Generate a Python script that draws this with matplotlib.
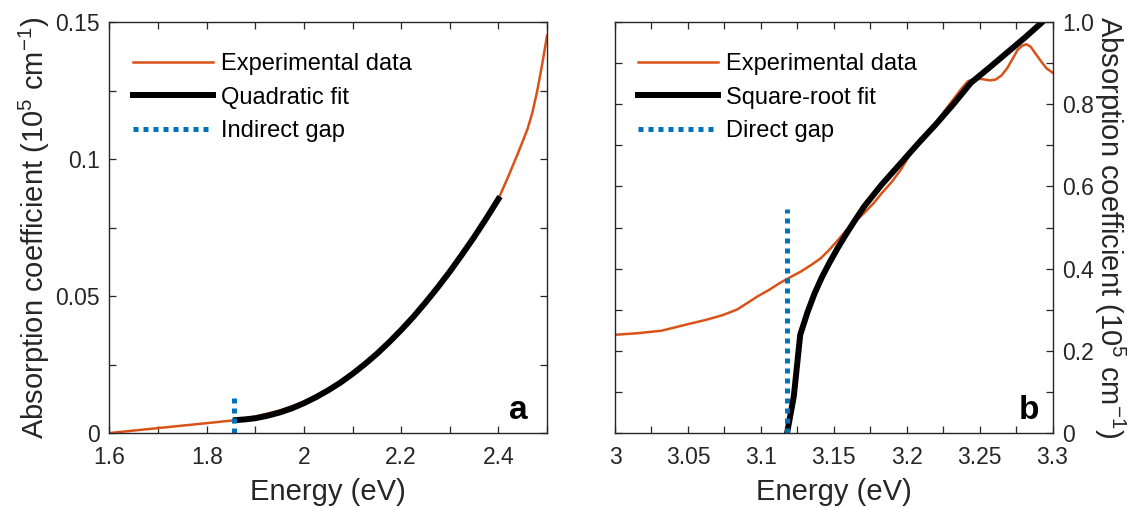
import numpy as np
import matplotlib
matplotlib.use('Agg')
import matplotlib.pyplot as plt
from matplotlib.ticker import MultipleLocator

plt.rcParams['font.family'] = ['Liberation Sans', 'DejaVu Sans']
plt.rcParams['mathtext.fontset'] = 'custom'
plt.rcParams['mathtext.rm'] = 'Liberation Sans'
plt.rcParams['mathtext.default'] = 'regular'

# panel a: indirect gap
exp_a_E = [1.60, 1.65, 1.70, 1.75, 1.80, 1.86, 1.90, 1.95, 2.00, 2.05, 2.10, 2.15,
           2.20, 2.25, 2.30, 2.35, 2.40, 2.42, 2.44, 2.46, 2.47, 2.48, 2.49, 2.50]
exp_a = [0.0000, 0.0009, 0.0018, 0.0027, 0.0036, 0.0047, 0.0060, 0.0082, 0.0113, 0.0158,
         0.0217, 0.0289, 0.0376, 0.0476, 0.0589, 0.0715, 0.0854, 0.0935, 0.1020, 0.1110,
         0.1170, 0.1250, 0.1345, 0.1450]
fit_a_E = [1.86, 1.88, 1.90, 1.925, 1.95, 1.975, 2.00, 2.025, 2.05, 2.075, 2.10, 2.125,
           2.15, 2.175, 2.20, 2.225, 2.25, 2.275, 2.30, 2.325, 2.35, 2.375, 2.40]
fit_a = [0.0047, 0.0050, 0.0054, 0.0063, 0.0075, 0.0090, 0.0109, 0.0131, 0.0156,
         0.0184, 0.0216, 0.0251, 0.0289, 0.0331, 0.0376, 0.0424, 0.0476, 0.0531,
         0.0589, 0.0651, 0.0715, 0.0783, 0.0854]
gap_a_E = [1.856, 1.856]
gap_a = [0.0, 0.0128]

# panel b: direct gap
exp_b_E = [3.000, 3.016, 3.032, 3.049, 3.062, 3.074, 3.084, 3.091, 3.098, 3.106, 3.113,
           3.118, 3.127, 3.135, 3.141, 3.147, 3.153, 3.159, 3.165, 3.171, 3.177, 3.183,
           3.190, 3.196, 3.205, 3.213, 3.220, 3.226, 3.232, 3.238, 3.242, 3.247, 3.252,
           3.257, 3.261, 3.265, 3.269, 3.273, 3.276, 3.279, 3.282, 3.285, 3.288, 3.292,
           3.296, 3.300]
exp_b = [0.239, 0.243, 0.249, 0.264, 0.275, 0.287, 0.301, 0.317, 0.333, 0.349, 0.365,
         0.375, 0.392, 0.410, 0.425, 0.446, 0.470, 0.495, 0.516, 0.536, 0.558, 0.584,
         0.612, 0.641, 0.693, 0.726, 0.755, 0.784, 0.812, 0.840, 0.856, 0.862, 0.861,
         0.858, 0.860, 0.870, 0.888, 0.913, 0.932, 0.942, 0.946, 0.940, 0.925, 0.905,
         0.887, 0.877]
fit_b_E = [3.118, 3.1226, 3.127, 3.132, 3.137, 3.142, 3.147, 3.153, 3.159, 3.165, 3.171,
           3.183, 3.196, 3.208, 3.220, 3.232, 3.244, 3.257, 3.269, 3.281, 3.293]
fit_b = [0.0, 0.089, 0.239, 0.294, 0.341, 0.380, 0.414, 0.452, 0.487, 0.520, 0.552,
         0.605, 0.657, 0.705, 0.751, 0.800, 0.852, 0.890, 0.926, 0.962, 1.0]
gap_b_E = [3.118, 3.118]
gap_b = [0.0, 0.545]

orange = '#D95319'
blue = '#0072BD'
grey = '#262626'
ylab = 'Absorption coefficient (10$^5$ cm$^{-1}$)'

fig = plt.figure(figsize=(11.37, 5.08), dpi=100)
ax1 = fig.add_axes([0.0963, 0.1476, 0.3848, 0.809])
ax2 = fig.add_axes([0.5409, 0.1476, 0.3848, 0.809])


def style(ax):
    for s in ax.spines.values():
        s.set_color(grey)
        s.set_linewidth(1.0)
    ax.tick_params(which='both', direction='in', length=5, width=0.9,
                   top=True, right=True, left=True, bottom=True,
                   colors=grey, labelsize=16.5)
    ax.tick_params(axis='x', pad=9)
    ax.tick_params(axis='y', pad=7)
    ax.tick_params(which='minor', labelleft=False, labelbottom=False)


ax1.plot(exp_a_E, exp_a, color=orange, lw=1.8, label='Experimental data')
ax1.plot(fit_a_E, fit_a, color='black', lw=4.3, label='Quadratic fit')
ax1.plot(gap_a_E, gap_a, color=blue, lw=3.6, dashes=(1, 1),
         dash_capstyle='butt', label='Indirect gap')
ax1.set_xlim(1.6, 2.5)
ax1.set_ylim(0, 0.15)
ax1.set_xticks([1.6, 1.8, 2.0, 2.2, 2.4], ['1.6', '1.8', '2', '2.2', '2.4'])
ax1.set_yticks([0, 0.05, 0.1, 0.15], ['0', '0.05', '0.1', '0.15'])
ax1.xaxis.set_minor_locator(MultipleLocator(0.1))
ax1.yaxis.set_minor_locator(MultipleLocator(0.025))
style(ax1)
ax1.set_xlabel('Energy (eV)', fontsize=21, color=grey, labelpad=7)
ax1.set_ylabel(ylab, fontsize=21, color=grey, labelpad=2)
ax1.text(0.955, 0.035, 'a', transform=ax1.transAxes, ha='right', va='baseline',
         fontsize=24, fontweight='bold')

ax2.plot(exp_b_E, exp_b, color=orange, lw=1.8, label='Experimental data')
ax2.plot(fit_b_E, fit_b, color='black', lw=4.3, label='Square-root fit')
ax2.plot(gap_b_E, gap_b, color=blue, lw=3.6, dashes=(1, 1),
         dash_capstyle='butt', label='Direct gap')
ax2.set_xlim(3.0, 3.3)
ax2.set_ylim(0, 1.0)
ax2.set_xticks([3.0, 3.05, 3.1, 3.15, 3.2, 3.25, 3.3],
               ['3', '3.05', '3.1', '3.15', '3.2', '3.25', '3.3'])
ax2.set_yticks([0, 0.2, 0.4, 0.6, 0.8, 1.0], ['0', '0.2', '0.4', '0.6', '0.8', '1.0'])
ax2.xaxis.set_minor_locator(MultipleLocator(0.025))
ax2.yaxis.set_minor_locator(MultipleLocator(0.1))
style(ax2)
ax2.tick_params(which='major', labelleft=False, labelright=True)
ax2.yaxis.set_label_position('right')
ax2.set_xlabel('Energy (eV)', fontsize=21, color=grey, labelpad=7)
ax2.set_ylabel(ylab, fontsize=21, color=grey, rotation=270, labelpad=24)
ax2.text(0.97, 0.035, 'b', transform=ax2.transAxes, ha='right', va='baseline',
         fontsize=24, fontweight='bold')

for ax in (ax1, ax2):
    ax.legend(loc='upper left', bbox_to_anchor=(0.053, 0.925), frameon=False,
              fontsize=17, handlelength=3.39, handletextpad=0.34,
              labelspacing=0.5, borderpad=0, borderaxespad=0)

fig.savefig('out.png', dpi=100)
